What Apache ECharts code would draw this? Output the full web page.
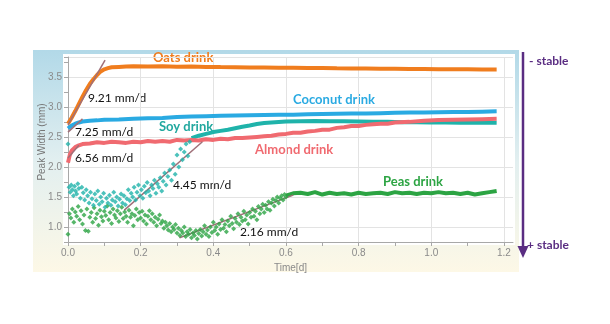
<!DOCTYPE html>
<html><head><meta charset="utf-8">
<script src="https://cdn.jsdelivr.net/npm/echarts@6/dist/echarts.min.js"></script>
<style>html,body{margin:0;padding:0;background:#fff}#c{width:610px;height:324px}</style>
</head><body><div id="c"></div>
<script>
// ---- data (time [d], peak width [mm]) ----
const xTicks = ['0.0','0.2','0.4','0.6','0.8','1.0','1.2'];
const yTicks = ['1.0','1.5','2.0','2.5','3.0','3.5'];

const oats = [[0,2.72],[0.01,2.82],[0.02,2.93],[0.03,3.05],[0.04,3.17],[0.05,3.28],[0.06,3.38],[0.07,3.46],[0.08,3.53],[0.09,3.59],[0.10,3.625],[0.11,3.645],[0.12,3.66],[0.14,3.665],[0.16,3.67],[0.18,3.675],[0.22,3.672],[0.26,3.675],[0.30,3.668],[0.34,3.672],[0.38,3.665],[0.42,3.662],[0.46,3.66],[0.50,3.655],[0.54,3.657],[0.58,3.65],[0.62,3.65],[0.66,3.647],[0.70,3.645],[0.74,3.642],[0.78,3.64],[0.82,3.64],[0.86,3.635],[0.90,3.635],[0.94,3.632],[0.98,3.63],[1.02,3.628],[1.06,3.625],[1.10,3.625],[1.14,3.62],[1.18,3.62]];

const coconut = [[0,2.64],[0.01,2.69],[0.02,2.72],[0.03,2.74],[0.04,2.755],[0.06,2.77],[0.08,2.775],[0.10,2.785],[0.14,2.79],[0.18,2.80],[0.22,2.81],[0.26,2.815],[0.30,2.83],[0.34,2.84],[0.38,2.845],[0.42,2.85],[0.46,2.855],[0.50,2.86],[0.54,2.865],[0.58,2.87],[0.62,2.87],[0.66,2.875],[0.70,2.88],[0.74,2.885],[0.78,2.89],[0.82,2.89],[0.86,2.895],[0.90,2.90],[0.94,2.905],[0.98,2.905],[1.02,2.91],[1.06,2.915],[1.10,2.915],[1.14,2.92],[1.18,2.925]];

const almond = [[0,2.07],[0.005,2.2],[0.01,2.27],[0.02,2.33],[0.03,2.36],[0.04,2.38],[0.06,2.39],[0.08,2.41],[0.10,2.40],[0.12,2.42],[0.14,2.41],[0.16,2.40],[0.18,2.42],[0.20,2.41],[0.22,2.43],[0.24,2.42],[0.26,2.43],[0.28,2.42],[0.30,2.45],[0.32,2.44],[0.34,2.45],[0.36,2.44],[0.38,2.46],[0.40,2.45],[0.42,2.47],[0.44,2.46],[0.46,2.48],[0.48,2.48],[0.50,2.49],[0.52,2.50],[0.54,2.51],[0.56,2.52],[0.58,2.54],[0.60,2.55],[0.62,2.57],[0.64,2.57],[0.66,2.59],[0.68,2.60],[0.70,2.62],[0.72,2.62],[0.74,2.65],[0.76,2.66],[0.78,2.68],[0.80,2.68],[0.82,2.70],[0.84,2.71],[0.86,2.72],[0.88,2.72],[0.90,2.74],[0.94,2.75],[0.98,2.77],[1.02,2.78],[1.06,2.785],[1.10,2.79],[1.14,2.795],[1.18,2.80]];

const soyDense = [[0.34,2.48],[0.36,2.52],[0.38,2.55],[0.40,2.58],[0.42,2.60],[0.44,2.62],[0.46,2.645],[0.48,2.67],[0.50,2.69],[0.52,2.715],[0.54,2.73],[0.56,2.74],[0.60,2.755],[0.64,2.76],[0.68,2.765],[0.72,2.76],[0.76,2.76],[0.80,2.755],[0.84,2.75],[0.88,2.75],[0.92,2.745],[0.96,2.745],[1.00,2.74],[1.04,2.74],[1.08,2.735],[1.12,2.735],[1.18,2.735]];

const soyScatter = [[0.000,2.38],[0.003,1.66],[0.006,1.58],[0.009,1.70],[0.012,1.62],[0.015,1.52],[0.018,1.68],[0.021,1.60],[0.024,1.55],[0.027,1.72],[0.030,1.64],[0.034,1.48],[0.038,1.66],[0.042,1.57],[0.046,1.45],[0.050,1.62],[0.054,1.52],[0.058,1.40],[0.062,1.58],[0.066,1.47],[0.070,1.36],[0.074,1.55],[0.078,1.44],[0.082,1.60],[0.086,1.38],[0.090,1.50],[0.094,1.42],[0.098,1.56],[0.102,1.33],[0.106,1.48],[0.110,1.40],[0.114,1.53],[0.118,1.36],[0.122,1.45],[0.126,1.58],[0.130,1.42],[0.134,1.50],[0.138,1.35],[0.142,1.46],[0.146,1.55],[0.150,1.40],[0.154,1.52],[0.158,1.37],[0.162,1.47],[0.166,1.62],[0.170,1.44],[0.174,1.56],[0.178,1.50],[0.182,1.66],[0.186,1.45],[0.190,1.58],[0.194,1.70],[0.198,1.52],[0.202,1.62],[0.206,1.48],[0.210,1.68],[0.214,1.57],[0.218,1.74],[0.222,1.60],[0.226,1.52],[0.230,1.70],[0.234,1.64],[0.238,1.78],[0.242,1.56],[0.246,1.72],[0.250,1.66],[0.254,1.82],[0.258,1.60],[0.262,1.76],[0.266,1.90],[0.270,1.70],[0.275,1.84],[0.280,1.95],[0.285,1.78],[0.290,2.05],[0.295,1.88],[0.300,2.20],[0.305,2.00],[0.310,2.30],[0.315,2.12],[0.320,2.25],[0.325,2.38],[0.330,2.18],[0.335,2.42]];

const peasScatter = [[0.000,0.88],[0.004,1.22],[0.008,1.15],[0.012,1.30],[0.016,1.08],[0.020,1.25],[0.024,1.18],[0.028,1.34],[0.032,1.12],[0.036,1.27],[0.040,1.05],[0.044,1.20],[0.048,0.94],[0.052,1.30],[0.056,0.93],[0.060,1.16],[0.064,1.24],[0.068,1.08],[0.072,1.32],[0.076,1.14],[0.080,1.22],[0.084,1.03],[0.088,1.28],[0.092,1.17],[0.096,1.10],[0.100,1.26],[0.104,1.19],[0.108,1.35],[0.112,1.12],[0.116,1.24],[0.120,1.06],[0.124,1.30],[0.128,1.20],[0.132,1.15],[0.136,1.27],[0.140,1.09],[0.144,1.22],[0.148,1.33],[0.152,1.14],[0.156,1.25],[0.160,1.18],[0.164,1.08],[0.168,1.28],[0.172,1.16],[0.176,1.22],[0.180,1.02],[0.184,1.19],[0.188,1.30],[0.192,1.12],[0.196,1.24],[0.200,1.15],[0.204,1.26],[0.208,1.10],[0.212,1.20],[0.216,1.05],[0.220,1.18],[0.224,1.27],[0.228,1.12],[0.232,1.22],[0.236,1.08],[0.240,1.16],[0.244,1.02],[0.248,1.13],[0.252,1.20],[0.256,1.06],[0.260,1.10],[0.264,0.98],[0.268,1.08],[0.272,1.02],[0.276,0.95],[0.280,1.06],[0.284,0.92],[0.288,1.00],[0.292,0.96],[0.296,1.04],[0.300,0.90],[0.304,0.98],[0.308,0.86],[0.312,0.94],[0.316,0.90],[0.320,1.00],[0.324,0.84],[0.328,0.92],[0.332,0.88],[0.336,0.96],[0.340,0.82],[0.344,0.90],[0.348,0.86],[0.352,0.94],[0.356,0.80],[0.360,0.89],[0.364,0.96],[0.368,0.85],[0.372,0.92],[0.376,1.02],[0.380,0.88],[0.384,0.95],[0.388,0.84],[0.392,1.00],[0.396,0.91],[0.400,1.08],[0.404,0.94],[0.408,1.00],[0.412,0.88],[0.416,1.05],[0.420,0.96],[0.424,1.12],[0.428,0.98],[0.432,1.04],[0.436,0.92],[0.440,1.10],[0.444,1.02],[0.448,1.18],[0.452,1.06],[0.456,0.97],[0.460,1.14],[0.464,1.08],[0.468,1.22],[0.472,1.04],[0.476,1.16],[0.480,1.10],[0.484,1.26],[0.488,1.12],[0.492,1.20],[0.496,1.05],[0.500,1.24],[0.504,1.16],[0.508,1.30],[0.512,1.18],[0.516,1.26],[0.520,1.12],[0.524,1.34],[0.528,1.22],[0.532,1.30],[0.536,1.38],[0.540,1.24],[0.544,1.36],[0.548,1.30],[0.552,1.42],[0.556,1.28],[0.560,1.40],[0.564,1.46],[0.568,1.35],[0.572,1.44],[0.576,1.50],[0.580,1.40],[0.584,1.48],[0.588,1.52],[0.592,1.45],[0.596,1.54],[0.600,1.50]];

const peasDense = [[0.60,1.52],[0.62,1.56],[0.64,1.57],[0.66,1.55],[0.68,1.58],[0.70,1.54],[0.72,1.57],[0.74,1.55],[0.76,1.56],[0.78,1.54],[0.80,1.57],[0.82,1.55],[0.84,1.56],[0.86,1.57],[0.88,1.55],[0.90,1.58],[0.92,1.56],[0.94,1.57],[0.96,1.55],[0.98,1.57],[1.00,1.56],[1.02,1.58],[1.04,1.56],[1.06,1.57],[1.08,1.55],[1.10,1.57],[1.12,1.54],[1.14,1.56],[1.16,1.58],[1.18,1.60]];

// fitted rate lines
const fitOats = [[0,2.70],[0.102,3.78]];
const fitCoconut = [[0,2.58],[0.04,2.80]];
const fitAlmond = [[0,2.15],[0.03,2.36]];
const fitSoy = [[0.155,1.28],[0.37,2.42]];
const fitPeas = [[0.307,0.82],[0.62,1.53]];

const C = {oats:'#F07D1E', coconut:'#2AAAE2', almond:'#F06A70', soy:'#1FB3AA', peas:'#2CA443', fit:'#A07079', purple:'#5A2D82'};

function lineS(d,color,w){return {type:'line',data:d,showSymbol:false,symbol:'none',lineStyle:{color:color,width:w},itemStyle:{color:color},z:3,animation:false};}
function scatS(d,color){return {type:'scatter',data:d,symbol:'diamond',symbolSize:5,itemStyle:{color:color},z:3,animation:false};}

const chart = echarts.init(document.getElementById('c'));
chart.setOption({
  animation:false,
  grid:{left:68,right:97,top:57,bottom:82,containLabel:false},
  xAxis:{type:'value',min:0,max:1.225,interval:0.1,
    name:'Time[d]',nameLocation:'middle',nameGap:17,nameTextStyle:{color:'#8a8a8a',fontSize:10,fontFamily:'Liberation Sans'},
    axisLine:{show:true,lineStyle:{color:'#a8a8a8'}},axisTick:{show:true,length:4,lineStyle:{color:'#a8a8a8'}},
    axisLabel:{color:'#8a8a8a',fontSize:10,fontFamily:'Liberation Sans',margin:6,
      formatter:v=>{const s=v.toFixed(1);return xTicks.indexOf(s)>=0?s:'';}},
    splitLine:{show:true,lineStyle:{color:['#e3e3e3','rgba(0,0,0,0)'],width:1}}},
  yAxis:{type:'value',min:0.75,max:3.83,interval:0.25,
    axisLine:{show:true,lineStyle:{color:'#a8a8a8'}},axisTick:{show:true,length:4,lineStyle:{color:'#a8a8a8'}},
    axisLabel:{color:'#8a8a8a',fontSize:10,fontFamily:'Liberation Sans',margin:6,
      formatter:v=>{const s=v.toFixed(1);return (yTicks.indexOf(s)>=0 && Math.abs(v-parseFloat(s))<1e-6)?s:'';}},
    splitLine:{show:true,lineStyle:{color:['rgba(0,0,0,0)','#e3e3e3'],width:1}}},
  series:[
    scatS(peasScatter,C.peas), lineS(peasDense,C.peas,4),
    scatS(soyScatter,C.soy), lineS(soyDense,C.soy,4),
    lineS(almond,C.almond,4), lineS(coconut,C.coconut,4), lineS(oats,C.oats,4),
    lineS(fitOats,C.fit,1.5), lineS(fitCoconut,C.fit,1.5), lineS(fitAlmond,C.fit,1.5),
    lineS(fitSoy,C.fit,1.5), lineS(fitPeas,C.fit,1.5)
  ],
  graphic:[
    {type:'rect',z:-100,shape:{x:33,y:50,width:486,height:222},
      style:{fill:new echarts.graphic.LinearGradient(0,0,0,1,[{offset:0,color:'#b2d9e8'},{offset:0.5,color:'#e2eff0'},{offset:1,color:'#fdf8e6'}])}},
    {type:'rect',z:-99,shape:{x:63,y:54,width:452,height:191},style:{fill:'#ffffff'}},
    {type:'text',x:42,y:142,rotation:Math.PI/2,style:{text:'Peak Width (mm)',fill:'#777',fontSize:10,fontFamily:'Liberation Sans',textAlign:'center',textVerticalAlign:'middle'}},
    {type:'text',x:153,y:58,style:{text:'Oats drink',fill:C.oats,fontSize:13,fontWeight:'bold',fontFamily:'Lato',textVerticalAlign:'middle'}},
    {type:'text',x:293,y:100,style:{text:'Coconut drink',fill:C.coconut,fontSize:13,fontWeight:'bold',fontFamily:'Lato',textVerticalAlign:'middle'}},
    {type:'text',x:159,y:127,style:{text:'Soy drink',fill:'#22A89F',fontSize:13,fontWeight:'bold',fontFamily:'Lato',textVerticalAlign:'middle'}},
    {type:'text',x:255,y:150,style:{text:'Almond drink',fill:C.almond,fontSize:13,fontWeight:'bold',fontFamily:'Lato',textVerticalAlign:'middle'}},
    {type:'text',x:383,y:182,style:{text:'Peas drink',fill:C.peas,fontSize:13,fontWeight:'bold',fontFamily:'Lato',textVerticalAlign:'middle'}},
    {type:'text',x:88,y:98,style:{text:'9.21 mm/d',fill:'#111',fontSize:12,fontFamily:'Lato',textVerticalAlign:'middle'}},
    {type:'text',x:75,y:132,style:{text:'7.25 mm/d',fill:'#111',fontSize:12,fontFamily:'Lato',textVerticalAlign:'middle'}},
    {type:'text',x:75,y:158,style:{text:'6.56 mm/d',fill:'#111',fontSize:12,fontFamily:'Lato',textVerticalAlign:'middle'}},
    {type:'text',x:173,y:185,style:{text:'4.45 mm/d',fill:'#111',fontSize:12,fontFamily:'Lato',textVerticalAlign:'middle'}},
    {type:'text',x:240,y:232,style:{text:'2.16 mm/d',fill:'#111',fontSize:12,fontFamily:'Lato',textVerticalAlign:'middle'}},
    {type:'line',shape:{x1:523,y1:52,x2:523,y2:248},style:{stroke:C.purple,lineWidth:2.5}},
    {type:'polygon',shape:{points:[[517.5,246],[528.5,246],[523,258]]},style:{fill:C.purple}},
    {type:'text',x:529,y:61,style:{text:'- stable',fill:C.purple,fontSize:12,fontWeight:'bold',fontFamily:'Lato',textVerticalAlign:'middle'}},
    {type:'text',x:527,y:245,style:{text:'+ stable',fill:C.purple,fontSize:12,fontWeight:'bold',fontFamily:'Lato',textVerticalAlign:'middle'}}
  ]
});
</script></body></html>
